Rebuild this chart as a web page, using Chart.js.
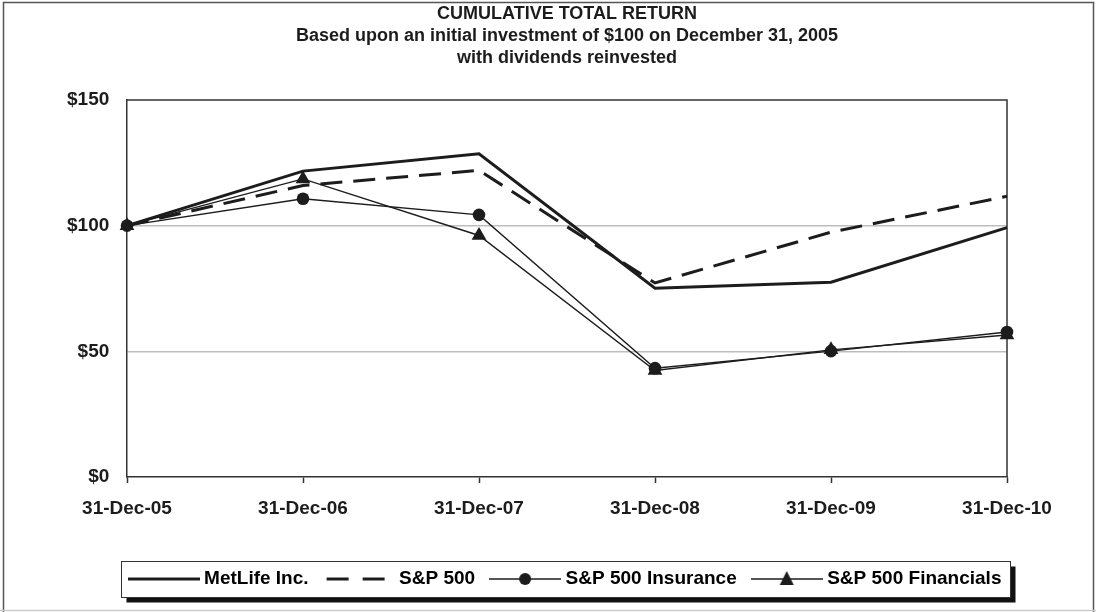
<!DOCTYPE html>
<html>
<head>
<meta charset="utf-8">
<title>Cumulative Total Return</title>
<script src="https://cdn.jsdelivr.net/npm/chart.js@4.4.1/dist/chart.umd.min.js"></script>
<style>
  html, body { margin: 0; padding: 0; background: #fff; }
  canvas { display: block; }
</style>
</head>
<body>
<canvas id="chart" width="1096" height="612"></canvas>
<script>
"use strict";

const years = ["31-Dec-05", "31-Dec-06", "31-Dec-07", "31-Dec-08", "31-Dec-09", "31-Dec-10"];
const metlife = [100, 121.7, 128.6, 75.1, 77.5, 99.2];
const sp500 = [100, 116, 122, 77.2, 97.4, 111.7];
const spInsurance = [100, 110.7, 104.3, 43.3, 50.1, 57.7];
const spFinancials = [100, 118.6, 96.1, 42.4, 50.6, 56.5];
const yTicks = [0, 50, 100, 150];
const titleLines = [
  "CUMULATIVE TOTAL RETURN",
  "Based upon an initial investment of $100 on December 31, 2005",
  "with dividends reinvested",
];

const INK = "#1c1c1c";
const FONT = "'Liberation Sans', Arial, sans-serif";

// legend samples: a short line with the marker in the middle
function makeSample(kind) {
  const c = document.createElement("canvas");
  c.width = 72;
  c.height = 20;
  const g = c.getContext("2d");
  g.strokeStyle = INK;
  g.fillStyle = INK;
  g.lineWidth = kind === "solid" || kind === "dash" ? 3 : 1.5;
  if (kind === "dash") g.setLineDash([22, 14]);
  g.beginPath();
  g.moveTo(kind === "dash" ? 4 : 0, 10);
  g.lineTo(72, 10);
  g.stroke();
  if (kind === "circle") {
    g.beginPath();
    g.arc(36, 10, 6, 0, Math.PI * 2);
    g.fill();
  }
  if (kind === "triangle") {
    g.beginPath();
    g.moveTo(36, 2);
    g.lineTo(43, 16);
    g.lineTo(29, 16);
    g.closePath();
    g.fill();
  }
  return c;
}

const samples = [makeSample("solid"), makeSample("dash"), makeSample("circle"), makeSample("triangle")];

// frame, outer border and the boxed legend with its shadow
const decorPlugin = {
  id: "decor",
  beforeDraw(chart) {
    const ctx = chart.ctx;
    ctx.save();
    ctx.strokeStyle = "#555";
    ctx.lineWidth = 1.5;
    ctx.beginPath();
    ctx.moveTo(3.5, 612);
    ctx.lineTo(3.5, 2.5);
    ctx.lineTo(1093.5, 2.5);
    ctx.lineTo(1093.5, 612);
    ctx.stroke();
    ctx.strokeStyle = "#ccc";
    ctx.beginPath();
    ctx.moveTo(0, 610.5);
    ctx.lineTo(1096, 610.5);
    ctx.stroke();

    const boxes = chart.legend.legendHitBoxes;
    if (boxes && boxes.length) {
      const first = boxes[0];
      const last = boxes[boxes.length - 1];
      const cy = first.top + first.height / 2;
      const x0 = Math.round(first.left - 12) + 0.5;
      const x1 = Math.round(last.left + last.width + 9) + 0.5;
      const y0 = Math.round(cy - 18) + 0.5;
      const y1 = Math.round(cy + 18) + 0.5;
      ctx.fillStyle = "#111";
      ctx.fillRect(x0 + 5, y0 + 5, x1 - x0, y1 - y0);
      ctx.fillStyle = "#fff";
      ctx.fillRect(x0, y0, x1 - x0, y1 - y0);
      ctx.strokeStyle = "#333";
      ctx.lineWidth = 1;
      ctx.strokeRect(x0, y0, x1 - x0, y1 - y0);
    }
    ctx.restore();
  },
  beforeDatasetsDraw(chart) {
    const a = chart.chartArea;
    const ctx = chart.ctx;
    ctx.save();
    ctx.strokeStyle = "#333";
    ctx.lineWidth = 1.5;
    ctx.beginPath();
    ctx.moveTo(a.left, a.top);
    ctx.lineTo(a.right, a.top);
    ctx.lineTo(a.right, a.bottom);
    ctx.stroke();
    ctx.restore();
  },
};

const ctx = document.getElementById("chart").getContext("2d");
const chart = new Chart(ctx, {
  type: "line",
  data: {
    labels: years,
    datasets: [
      {
        label: "MetLife Inc.",
        data: metlife,
        borderColor: INK,
        borderWidth: 3,
        pointRadius: 0,
        tension: 0,
        clip: false,
      },
      {
        label: "S&P 500",
        data: sp500,
        borderColor: INK,
        borderWidth: 3,
        borderDash: [22, 11],
        pointRadius: 0,
        tension: 0,
        clip: false,
      },
      {
        label: "S&P 500 Insurance",
        data: spInsurance,
        borderColor: INK,
        borderWidth: 1.4,
        pointStyle: "circle",
        pointRadius: 6.3,
        pointBackgroundColor: INK,
        pointBorderColor: INK,
        pointBorderWidth: 0,
        tension: 0,
        clip: false,
      },
      {
        label: "S&P 500 Financials",
        data: spFinancials,
        borderColor: INK,
        borderWidth: 1.4,
        pointStyle: "triangle",
        pointRadius: 8.5,
        pointBackgroundColor: INK,
        pointBorderColor: INK,
        pointBorderWidth: 0,
        tension: 0,
        clip: false,
      },
    ],
  },
  options: {
    responsive: false,
    animation: false,
    devicePixelRatio: 1,
    layout: {
      padding: { left: 110, right: 72, top: 0, bottom: 13.5 },
    },
    plugins: {
      tooltip: { enabled: false },
      title: {
        display: true,
        text: titleLines,
        color: INK,
        font: { family: FONT, size: 18, weight: "bold", lineHeight: 22 / 18 },
        padding: { top: 3, bottom: 31 },
      },
      legend: {
        position: "bottom",
        labels: {
          usePointStyle: true,
          pointStyleWidth: 62,
          padding: 19,
          color: INK,
          font: { family: FONT, size: 19, weight: "bold" },
          generateLabels(c) {
            return c.data.datasets.map((ds, i) => ({
              text: ds.label,
              pointStyle: samples[i],
              fillStyle: INK,
              strokeStyle: INK,
              lineWidth: 0,
              hidden: false,
              datasetIndex: i,
            }));
          },
        },
      },
    },
    scales: {
      x: {
        offset: false,
        grid: {
          display: true,
          drawOnChartArea: false,
          drawTicks: true,
          tickLength: 6,
          tickColor: "#333",
          tickWidth: 1.5,
        },
        border: { display: true, color: "#333", width: 1.5 },
        ticks: {
          color: INK,
          padding: 14,
          maxRotation: 0,
          autoSkip: false,
          font: { family: FONT, size: 19, weight: "bold" },
        },
        afterFit(scale) {
          scale.height = 73.5;
        },
      },
      y: {
        min: 0,
        max: 150,
        afterBuildTicks(scale) {
          scale.ticks = yTicks.map((v) => ({ value: v }));
        },
        grid: {
          drawTicks: false,
          lineWidth: 1.5,
          color: (c) => (c.tick && (c.tick.value === 50 || c.tick.value === 100) ? "#bdbdbd" : "rgba(0,0,0,0)"),
        },
        border: { display: true, color: "#333", width: 1.5 },
        ticks: {
          // labels sit left of the axis; mirror keeps them from being clipped to the narrow axis box
          mirror: true,
          crossAlign: "far",
          padding: -60,
          color: INK,
          font: { family: FONT, size: 19, weight: "bold" },
          callback: (v) => "$" + v,
        },
        afterFit(scale) {
          scale.width = 17;
        },
      },
      y2: {
        type: "linear",
        position: "right",
        display: true,
        grid: { display: false, drawTicks: false },
        border: { display: false },
        ticks: { display: false },
        afterFit(scale) {
          scale.width = 17;
        },
      },
    },
  },
  plugins: [decorPlugin],
});
</script>
</body>
</html>
